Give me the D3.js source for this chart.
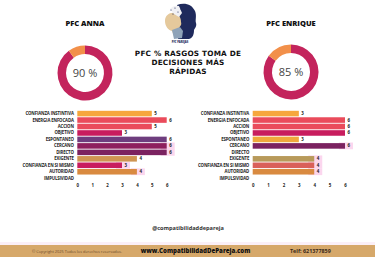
<!DOCTYPE html>
<html>
<head>
<meta charset="utf-8">
<script src="https://cdn.jsdelivr.net/npm/d3@7"></script>
<style>
  body { margin: 0; background: #fff; }
  svg { display: block; }
  text { font-family: "Open Sans", sans-serif; }
</style>
</head>
<body>
<div id="chart"></div>
<script>
var svgWidth = 375;
var svgHeight = 257;

// data
var categories = ["CONFIANZA INSTINTIVA", "ENERGIA ENFOCADA", "ACCION", "OBJETIVO", "ESPONTANEO",
  "CERCANO", "DIRECTO", "EXIGENTE", "CONFIANZA EN SI MISMO", "AUTORIDAD", "IMPULSIVIDAD"];
var annaValues = [5, 6, 5, 3, 6, 6, 6, 4, 3, 4, 0];
var enriqueValues = [3, 6, 6, 6, 3, 6, 0, 4, 4, 4, 0];
var annaColors = ["#f6a73c", "#ea4b5b", "#ea4b5b", "#c81d5e", "#6e3d7e", "#8e1f5e", "#7b2260",
  "#cf9552", "#c81d5e", "#d98a40", "#ccc"];
var enriqueColors = ["#f6a73c", "#ea4b5b", "#ea4b5b", "#c81d5e", "#f0a83c", "#7b2260", "#ccc",
  "#b89a5a", "#d9605a", "#d98a40", "#ccc"];
var annaHighlight = ["CERCANO", "DIRECTO", "CONFIANZA EN SI MISMO", "AUTORIDAD"];
var enriqueHighlight = ["CERCANO", "EXIGENTE", "CONFIANZA EN SI MISMO", "AUTORIDAD"];
var xTicks = [0, 1, 2, 3, 4, 5, 6];
var donutAnna = [90, 10];
var donutEnrique = [85, 15];

var svg = d3.select("#chart")
  .append("svg")
  .attr("width", svgWidth)
  .attr("height", svgHeight);

svg.append("rect")
  .attr("width", "100%")
  .attr("height", "100%")
  .attr("fill", "#fff");

// logo (rough)
var logo = svg.append("g").attr("transform", "translate(162, 3)");
logo.append("path")
  .attr("d", "M15,2 C22,-1 30,1 33,8 C35,13 33,17 34,20 C35,23 33,25 32,27 C32,31 31,35 27,36 L16,36 L17,28 Z")
  .attr("fill", "#1f2a5c");
logo.append("path")
  .attr("d", "M3,18 C3,12 8,9 13,10 C17,11 19,15 19,19 C20,22 18,23 17,25 L18,30 L12,33 L10,28 C6,27 3,23 3,18 Z")
  .attr("fill", "#e5c99c");
logo.append("path")
  .attr("d", "M10,27 L18,24 L21,28 L20,35 L12,36 Z")
  .attr("fill", "#8fa3b8");
logo.append("path")
  .attr("d", "M8,6 C10,3 14,2 17,3 L20,10 L17,14 L12,11 Z")
  .attr("fill", "#f1f1f4");
logo.selectAll("circle.dot")
  .data([[9, 7], [13, 5], [16, 9], [11, 11], [19, 6], [22, 12]])
  .enter().append("circle")
  .attr("cx", d => d[0]).attr("cy", d => d[1]).attr("r", 0.6)
  .attr("fill", "#1f2a5c");
logo.append("text")
  .attr("x", 18).attr("y", 40)
  .attr("text-anchor", "middle")
  .style("font-size", "2.6px")
  .style("font-weight", 800)
  .attr("fill", "#1f2a5c")
  .text("PFC PAREJAS");

// titles
svg.append("text")
  .attr("x", 85).attr("y", 25.5)
  .attr("text-anchor", "middle")
  .style("font-size", "7.5px").style("font-weight", 800)
  .attr("fill", "#111")
  .text("PFC ANNA");
svg.append("text")
  .attr("x", 291).attr("y", 25.5)
  .attr("text-anchor", "middle")
  .style("font-size", "7.5px").style("font-weight", 800)
  .attr("fill", "#111")
  .text("PFC ENRIQUE");

var titleLines = ["PFC % RASGOS TOMA DE", "DECISIONES MÁS", "RÁPIDAS"];
svg.append("g").selectAll("text")
  .data(titleLines)
  .enter().append("text")
  .attr("x", 188)
  .attr("y", (d, i) => 55.8 + i * 9.2)
  .attr("text-anchor", "middle")
  .style("font-family", "DejaVu Sans, sans-serif")
  .style("font-size", "7.3px").style("font-weight", 700)
  .style("letter-spacing", "0.2px")
  .attr("fill", "#111")
  .text(d => d);

// donuts
function drawDonut(values, cx, cy) {
  var g = svg.append("g").attr("transform", `translate(${cx}, ${cy})`);
  var pie = d3.pie().sort(null)(values);
  var arc = d3.arc().innerRadius(19).outerRadius(27.5);
  g.selectAll("path")
    .data(pie)
    .enter().append("path")
    .attr("d", arc)
    .attr("fill", (d, i) => i == 0 ? "#c3245c" : "#f2904a");
  g.append("text")
    .attr("y", 4)
    .attr("text-anchor", "middle")
    .style("font-size", "11px")
    .style("font-weight", 400)
    .attr("fill", "#444")
    .text(values[0] + " %");
}
drawDonut(donutAnna, 85, 73);
drawDonut(donutEnrique, 291, 72);

// bar charts
function drawBars(values, colors, highlight, x0, x6) {
  var xScale = d3.scaleLinear().domain([0, 6]).range([x0, x6]);
  var yScale = d3.scaleBand().domain(categories).range([110.8, 181]).paddingInner(0.14);
  var g = svg.append("g");
  var rows = categories.map((c, i) => ({cat: c, v: values[i], color: colors[i]}));

  g.selectAll("rect.hl")
    .data(rows.filter(d => highlight.indexOf(d.cat) >= 0 && d.v > 0))
    .enter().append("rect")
    .attr("x", d => xScale(d.v) - 6)
    .attr("y", d => yScale(d.cat) - 0.6)
    .attr("width", 14)
    .attr("height", yScale.bandwidth() + 1.2)
    .attr("fill", "#fbd6ee");

  g.selectAll("rect.bar")
    .data(rows.filter(d => d.v > 0))
    .enter().append("rect")
    .attr("x", xScale(0))
    .attr("y", d => yScale(d.cat))
    .attr("width", d => xScale(d.v) - xScale(0))
    .attr("height", yScale.bandwidth())
    .attr("fill", d => d.color);

  g.selectAll("text.val")
    .data(rows.filter(d => d.v > 0))
    .enter().append("text")
    .attr("x", d => xScale(d.v) + 2.5)
    .attr("y", d => yScale(d.cat) + yScale.bandwidth() / 2 + 1.5)
    .style("font-size", "4.4px").style("font-weight", 700)
    .attr("fill", "#222")
    .text(d => d.v);

  g.selectAll("text.cat")
    .data(rows)
    .enter().append("text")
    .attr("x", x0 - 3.5)
    .attr("y", d => yScale(d.cat) + yScale.bandwidth() / 2 + 1.5)
    .attr("text-anchor", "end")
    .style("font-size", "4.3px").style("font-weight", 700)
    .style("letter-spacing", "-0.12px")
    .attr("fill", "#222")
    .text(d => d.cat);

  var axis = g.append("g")
    .attr("transform", "translate(0, 182.5)")
    .call(d3.axisBottom(xScale).tickValues(xTicks).tickFormat(d3.format("d")).tickSize(0).tickPadding(1));
  axis.select(".domain").remove();
  axis.selectAll("text")
    .style("font-size", "4.4px").style("font-weight", 700)
    .style("font-family", "Open Sans, sans-serif")
    .attr("fill", "#222");
}
drawBars(annaValues, annaColors, annaHighlight, 77.3, 166.7);
drawBars(enriqueValues, enriqueColors, enriqueHighlight, 252.7, 345);

// footer
svg.append("text")
  .attr("x", 188).attr("y", 230)
  .attr("text-anchor", "middle")
  .style("font-size", "5.6px").style("font-weight", 700)
  .attr("fill", "#333")
  .text("@compatibilidaddepareja");

svg.append("rect")
  .attr("x", 0).attr("y", 242)
  .attr("width", svgWidth).attr("height", 3)
  .attr("fill", "#fbeff7");
svg.append("rect")
  .attr("x", 0).attr("y", 245)
  .attr("width", svgWidth).attr("height", 12)
  .attr("fill", "#d6a86a");

svg.append("text")
  .attr("x", 32).attr("y", 252.5)
  .style("font-size", "3.9px")
  .attr("fill", "#6b4a2a")
  .text("© Copyright 2025 Todos los derechos reservados.");
svg.append("text")
  .attr("x", 195.5).attr("y", 253.3)
  .attr("text-anchor", "middle")
  .style("font-size", "6.1px").style("font-weight", 800)
  .attr("fill", "#111")
  .text("www.CompatibilidadDePareja.com");
svg.append("text")
  .attr("x", 290).attr("y", 253)
  .style("font-size", "5.4px").style("font-weight", 700)
  .attr("fill", "#3a2a1a")
  .text("Telf: 621377859");
</script>
</body>
</html>
